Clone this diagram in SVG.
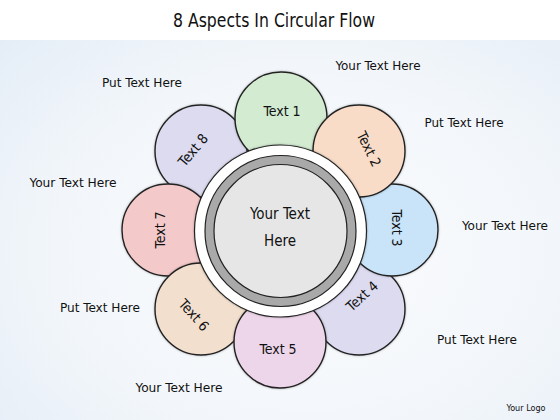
<svg xmlns="http://www.w3.org/2000/svg" width="560" height="420" viewBox="0 0 560 420">
<defs>
<radialGradient id="bg" cx="0.55" cy="0.6" r="0.75">
<stop offset="0" stop-color="#fbfcfe"/>
<stop offset="0.6" stop-color="#f2f6fa"/>
<stop offset="1" stop-color="#e4edf7"/>
</radialGradient>
<filter id="sh" x="-20%" y="-20%" width="140%" height="140%">
<feGaussianBlur in="SourceAlpha" stdDeviation="1"/>
<feOffset dx="0" dy="0" result="b"/>
<feFlood flood-color="#000" flood-opacity="0.3"/>
<feComposite in2="b" operator="in"/>
<feMerge><feMergeNode/><feMergeNode in="SourceGraphic"/></feMerge>
</filter>
</defs>
<style>
.hand{font-family:"DejaVu Sans Condensed","Liberation Sans Narrow","Liberation Sans",sans-serif;fill:#111}
.petal{stroke:#222;stroke-width:1.4;filter:url(#sh)}
.pl{font-size:14px;text-anchor:middle;dominant-baseline:central}
.ol{font-size:13px;text-anchor:middle}
</style>
<rect width="560" height="420" fill="url(#bg)"/>
<rect width="560" height="40" fill="#ffffff"/>
<text class="hand" x="274" y="27" font-size="19" text-anchor="middle" textLength="202" lengthAdjust="spacingAndGlyphs">8 Aspects In Circular Flow</text>

<g id="connectors"></g>

<g id="petal4"><circle class="petal" cx="359" cy="309" r="46" fill="#dcdbf0"/><text class="hand pl" transform="translate(362,296) rotate(-42)">Text 4</text></g>
<g id="petal8"><circle class="petal" cx="201" cy="151" r="46" fill="#dcdbf0"/><text class="hand pl" transform="translate(193,150) rotate(-50)">Text 8</text></g>
<g id="petal3"><circle class="petal" cx="392" cy="230" r="46" fill="#c9e4f8"/><text class="hand pl" transform="translate(397,228) rotate(90)">Text 3</text></g>
<g id="petal1"><circle class="petal" cx="281" cy="118" r="46" fill="#d3ebd1"/><text class="hand pl" x="282" y="111">Text 1</text></g>
<g id="petal7"><circle class="petal" cx="168" cy="230" r="46" fill="#f4c9c9"/><text class="hand pl" transform="translate(160,230) rotate(-90)">Text 7</text></g>
<g id="petal2"><circle class="petal" cx="359" cy="151" r="46" fill="#f8dcc8"/><text class="hand pl" transform="translate(369,149) rotate(64)">Text 2</text></g>
<g id="petal6"><circle class="petal" cx="201" cy="309" r="46" fill="#f2dfce"/><text class="hand pl" transform="translate(194,315) rotate(48)">Text 6</text></g>
<g id="petal5"><circle class="petal" cx="280" cy="342" r="46" fill="#eed6ea"/><text class="hand pl" x="278" y="349">Text 5</text></g>

<g id="center">
<circle cx="280.5" cy="231" r="86" fill="#ffffff" stroke="#222" stroke-width="1.2" filter="url(#sh)"/>
<circle cx="280.5" cy="231" r="75.5" fill="#a9a9a9" stroke="#222" stroke-width="1.2"/>
<circle cx="280.5" cy="231" r="66.5" fill="#e6e6e6" stroke="#222" stroke-width="1.2"/>
<text class="hand" x="280" y="219" font-size="15" text-anchor="middle">Your Text</text>
<text class="hand" x="280" y="246" font-size="15" text-anchor="middle">Here</text>
</g>

<g id="labels">
<text class="hand ol" x="378" y="70" textLength="85" lengthAdjust="spacingAndGlyphs">Your Text Here</text>
<text class="hand ol" x="464" y="127" textLength="79" lengthAdjust="spacingAndGlyphs">Put Text Here</text>
<text class="hand ol" x="505" y="230" textLength="86" lengthAdjust="spacingAndGlyphs">Your Text Here</text>
<text class="hand ol" x="477" y="344" textLength="80" lengthAdjust="spacingAndGlyphs">Put Text Here</text>
<text class="hand ol" x="179" y="392" textLength="87" lengthAdjust="spacingAndGlyphs">Your Text Here</text>
<text class="hand ol" x="100" y="312" textLength="80" lengthAdjust="spacingAndGlyphs">Put Text Here</text>
<text class="hand ol" x="73" y="187" textLength="87" lengthAdjust="spacingAndGlyphs">Your Text Here</text>
<text class="hand ol" x="142" y="87" textLength="80" lengthAdjust="spacingAndGlyphs">Put Text Here</text>
<text class="hand" x="526" y="411" font-size="9" text-anchor="middle">Your Logo</text>
</g>
</svg>
